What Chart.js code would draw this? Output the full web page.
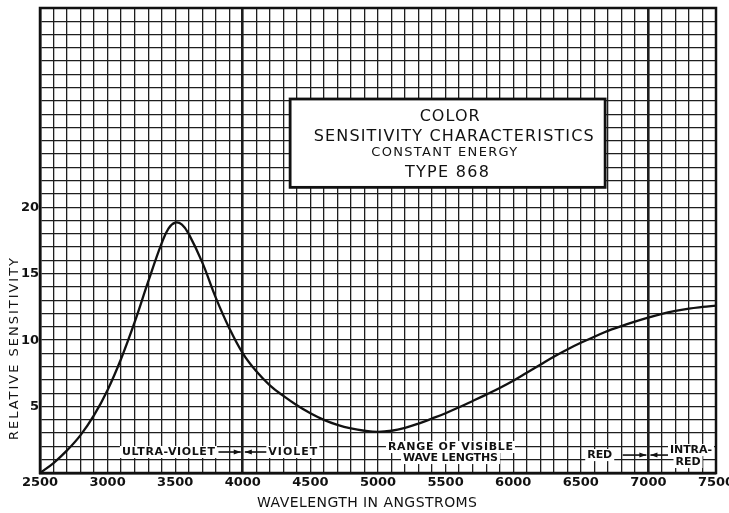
<!DOCTYPE html>
<html><head><meta charset="utf-8">
<script src="https://cdn.jsdelivr.net/npm/chart.js@4"></script>
<style>html,body{margin:0;padding:0;background:#fff}#wrap{width:729px;height:513px}</style>
</head><body><div id="wrap"><canvas id="c" width="729" height="513"></canvas></div>
<script>
// ---- data ----
const wavelengths = [2500,2600,2700,2800,2900,3000,3100,3200,3300,3400,3450,3500,3550,3600,3700,3800,3900,4000,
  4100,4200,4300,4400,4500,4600,4700,4800,4900,5000,5100,5200,5300,5400,5500,5600,5700,5800,5900,6000,
  6100,6200,6300,6400,6500,6600,6700,6800,6900,7000,7100,7200,7300,7400,7500];
const sensitivity = [0,0.75,1.7,2.85,4.35,6.25,8.6,11.35,14.4,17.3,18.4,18.85,18.7,18.0,15.85,13.2,10.9,9.0,
  7.65,6.6,5.8,5.1,4.5,4.0,3.62,3.35,3.18,3.1,3.18,3.4,3.72,4.1,4.5,4.95,5.42,5.9,6.4,6.95,
  7.55,8.15,8.75,9.3,9.8,10.25,10.7,11.05,11.4,11.7,11.98,12.2,12.38,12.5,12.6];
const xTickLabels = [2500,3000,3500,4000,4500,5000,5500,6000,6500,7000,7500];
const yTickLabels = [5,10,15,20];
const boundaryWavelengths = [4000,7000];
const boxTitleLines = ["COLOR","SENSITIVITY CHARACTERISTICS","CONSTANT ENERGY","TYPE 868"];
const xAxisTitle = "WAVELENGTH IN ANGSTROMS";
const yAxisTitle = "RELATIVE SENSITIVITY";
const regionLabels = ["ULTRA-VIOLET","VIOLET","RANGE OF VISIBLE","WAVE LENGTHS","RED","INTRA-","RED"];

const FONT = '"DejaVu Sans"';

function fitText(ctx, s, cx, cy, size, targetW, bg, weight) {
  ctx.save();
  ctx.font = `${weight || 'normal'} ${size}px ${FONT}`;
  ctx.letterSpacing = '0px';
  const w0 = ctx.measureText(s).width;
  const w = targetW || w0;
  const ls = (targetW && s.length > 1) ? (targetW - w0) / (s.length - 1) : 0;
  if (bg) {
    ctx.fillStyle = '#fff';
    ctx.fillRect(cx - w/2 - 2, cy - size*0.55, w + 4, size*1.1);
  }
  ctx.letterSpacing = ls + 'px';
  ctx.fillStyle = '#111';
  ctx.textAlign = 'left';
  ctx.textBaseline = 'middle';
  ctx.fillText(s, cx - w/2, cy);
  ctx.restore();
}

function arrow(ctx, x1, x2, y) {
  ctx.save();
  ctx.strokeStyle = '#111'; ctx.fillStyle = '#111'; ctx.lineWidth = 1.6;
  ctx.beginPath(); ctx.moveTo(x1, y); ctx.lineTo(x2, y); ctx.stroke();
  const d = x2 > x1 ? 1 : -1;
  ctx.beginPath();
  ctx.moveTo(x2, y); ctx.lineTo(x2 - d*7, y - 2.5); ctx.lineTo(x2 - d*7, y + 2.5); ctx.closePath(); ctx.fill();
  ctx.restore();
}

const decor = {
  id: 'decor',
  beforeDraw(chart) {
    const c = chart.ctx;
    c.save(); c.fillStyle = '#fff'; c.fillRect(0, 0, chart.width, chart.height); c.restore();
  },
  afterDatasetsDraw(chart) {
    const c = chart.ctx, xs = chart.scales.x, ys = chart.scales.y, a = chart.chartArea;
    const X = v => xs.getPixelForValue(v), Y = v => ys.getPixelForValue(v);
    // outer frame
    c.save(); c.strokeStyle = '#111'; c.lineWidth = 2.5;
    c.strokeRect(a.left, a.top, a.right - a.left, a.bottom - a.top); c.restore();
    // title box
    const bx1 = X(4350), bx2 = X(6680), by1 = Y(28.15), by2 = Y(21.5);
    c.save(); c.fillStyle = '#fff'; c.fillRect(bx1, by1, bx2 - bx1, by2 - by1);
    c.strokeStyle = '#111'; c.lineWidth = 2.8; c.strokeRect(bx1, by1, bx2 - bx1, by2 - by1); c.restore();
    fitText(c, boxTitleLines[0], X(5530), Y(26.8), 16, 60);
    fitText(c, boxTitleLines[1], X(5560), Y(25.3), 16, 280);
    fitText(c, boxTitleLines[2], X(5490), Y(24.1), 13, 146);
    fitText(c, boxTitleLines[3], X(5510), Y(22.6), 16, 84);
    // region labels
    fitText(c, regionLabels[0], X(3450), Y(1.58), 11, 93, true, 'bold');
    arrow(c, X(3820), X(3985), Y(1.58));
    arrow(c, X(4180), X(4015), Y(1.58));
    fitText(c, regionLabels[1], X(4370), Y(1.58), 11, 49, true, 'bold');
    fitText(c, regionLabels[2], X(5536), Y(1.96), 11, 125, true, 'bold');
    fitText(c, regionLabels[3], X(5536), Y(1.13), 11, 95, true, 'bold');
    fitText(c, regionLabels[4], X(6640), Y(1.35), 11, 25, true, 'bold');
    arrow(c, X(6810), X(6985), Y(1.35));
    arrow(c, X(7150), X(7015), Y(1.35));
    fitText(c, regionLabels[5], X(7315), Y(1.73), 11, 42, true, 'bold');
    fitText(c, regionLabels[6], X(7293), Y(0.83), 11, 25, true, 'bold');
  },
  afterDraw(chart) {
    const c = chart.ctx;
    fitText(c, xAxisTitle, 367, 503, 14, 220);
    c.save();
    c.translate(15, 349); c.rotate(-Math.PI/2);
    fitText(c, yAxisTitle, 0, 0, 13, 182);
    c.restore();
  }
};

new Chart(document.getElementById('c'), {
  type: 'line',
  data: {
    datasets: [{
      data: wavelengths.map((w, i) => ({x: w, y: sensitivity[i]})),
      borderColor: '#111', borderWidth: 2.3, pointRadius: 0,
      tension: 0.4, fill: false
    }]
  },
  options: {
    responsive: false, animation: false, devicePixelRatio: 1,
    layout: {padding: {top: 8, right: 13, left: 0, bottom: 0}},
    plugins: {legend: {display: false}, tooltip: {enabled: false}, title: {display: false}},
    scales: {
      x: {
        type: 'linear', min: 2500, max: 7500,
        ticks: {
          stepSize: 100, autoSkip: false, maxRotation: 0, minRotation: 0, padding: 2,
          color: '#111', font: {family: 'DejaVu Sans', size: 13, weight: 'bold'},
          callback: v => xTickLabels.includes(v) ? String(v) : ''
        },
        grid: {
          drawTicks: false, color: '#1e1e1e',
          lineWidth: ctx => (ctx.tick && boundaryWavelengths.includes(ctx.tick.value)) ? 2.6 : 1.3
        },
        border: {color: '#111', width: 2.5},
        afterFit(s) { s.height = 40; s.paddingLeft = 0; s.paddingRight = 0; }
      },
      y: {
        min: 0, max: 35,
        ticks: {
          stepSize: 1, autoSkip: false, padding: 1,
          color: '#111', font: {family: 'DejaVu Sans', size: 13, weight: 'bold'},
          callback: v => yTickLabels.includes(v) ? String(v) : ''
        },
        grid: {drawTicks: false, color: '#1e1e1e', lineWidth: 1.3},
        border: {color: '#111', width: 2.5},
        afterFit(s) { s.width = 40; s.paddingTop = 0; s.paddingBottom = 0; }
      }
    }
  },
  plugins: [decor]
});
</script>
</body></html>
